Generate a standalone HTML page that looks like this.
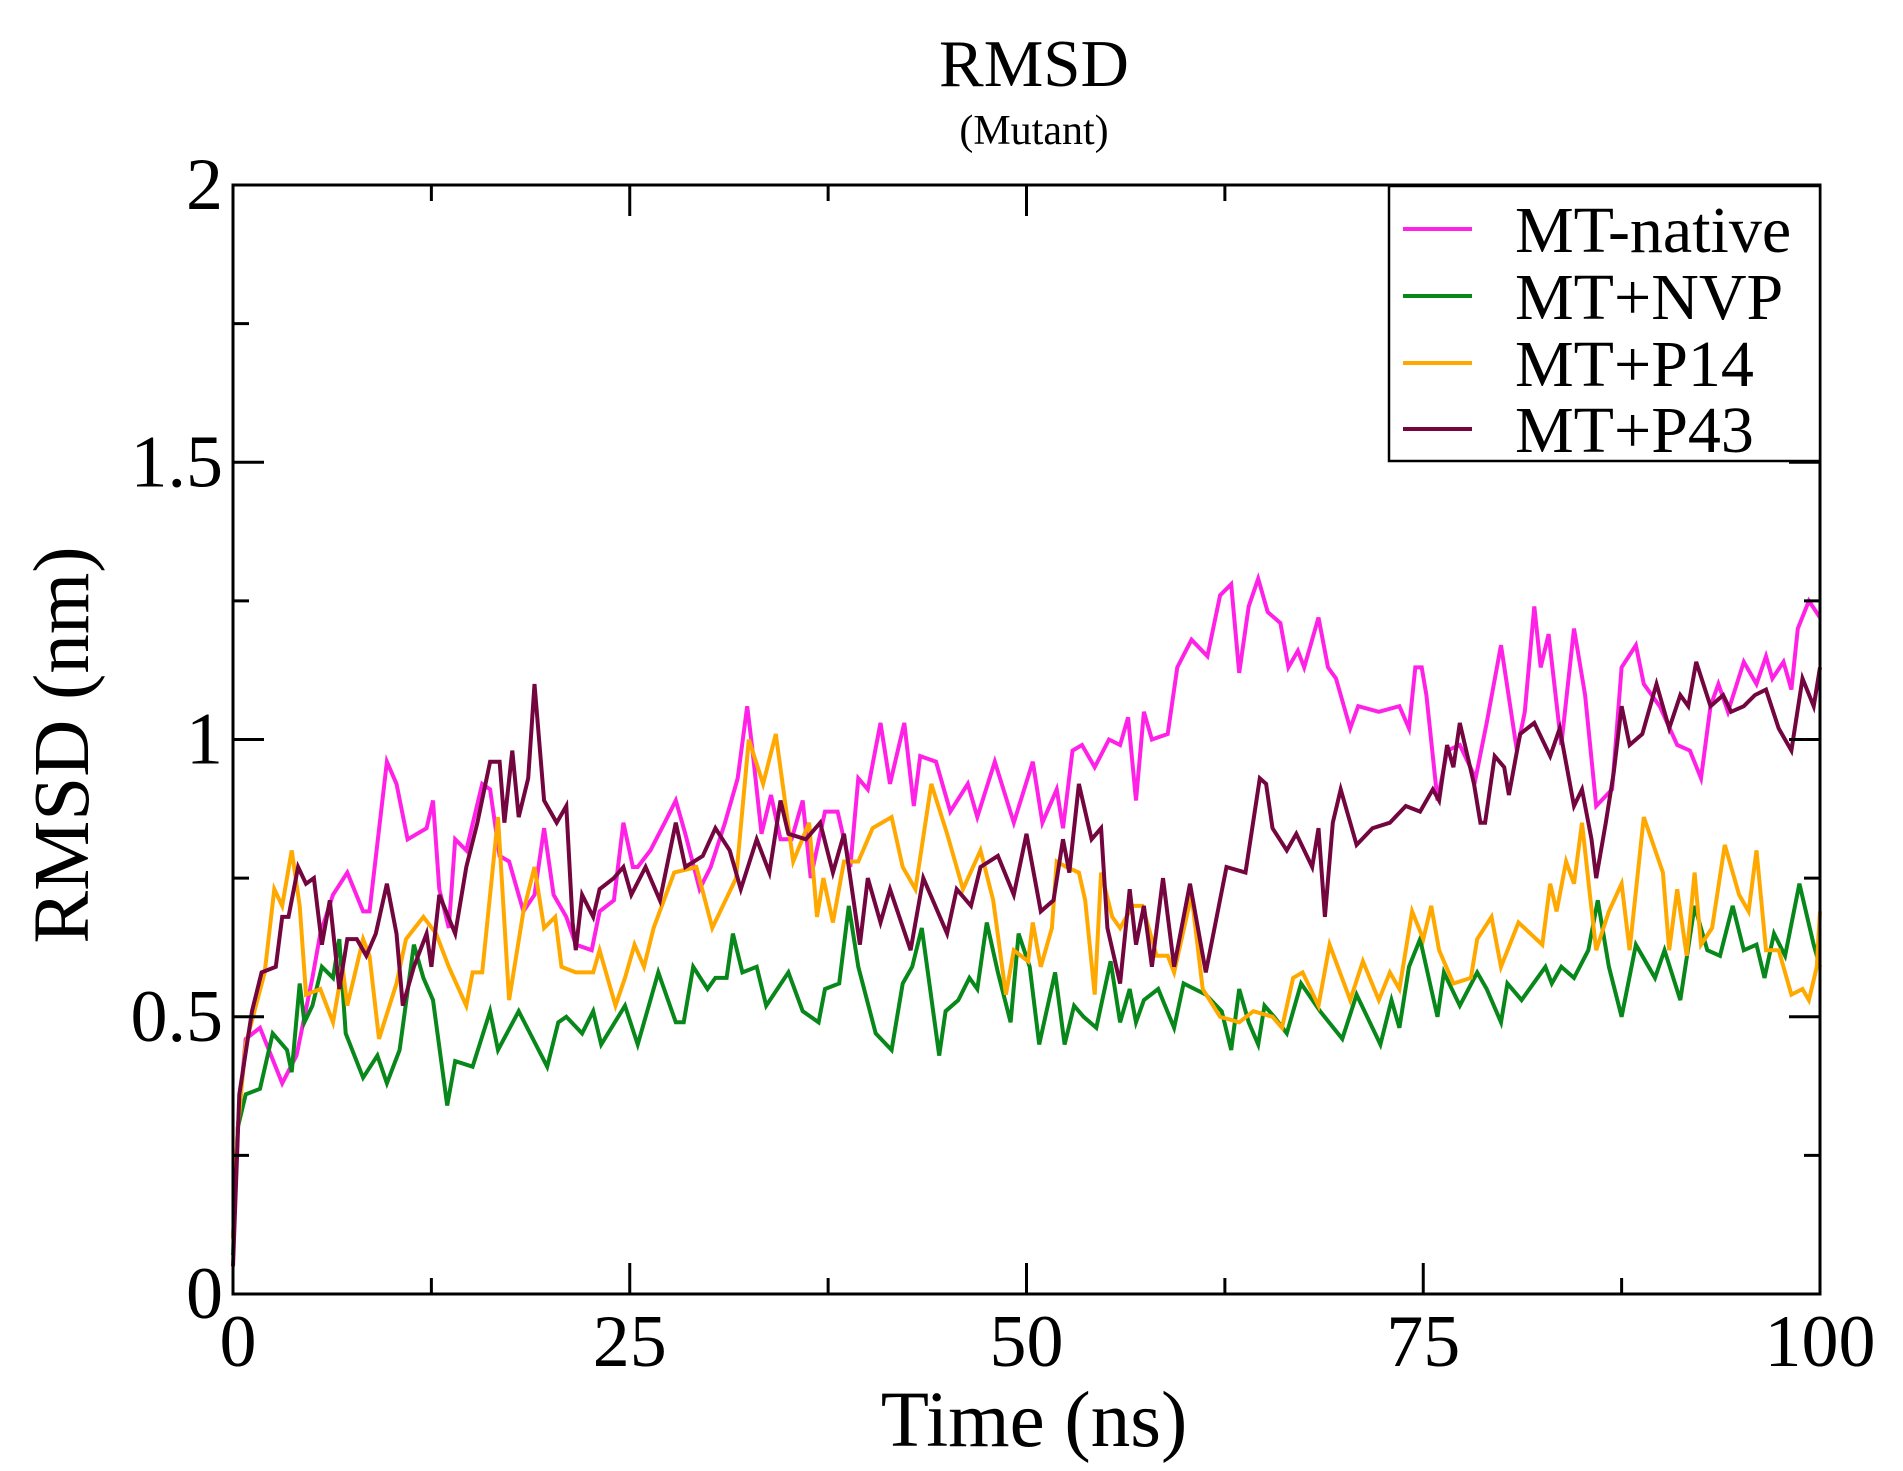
<!DOCTYPE html>
<html><head><meta charset="utf-8"><style>
html,body{margin:0;padding:0;background:#fff;}
svg{display:block;}
text{font-family:"Liberation Serif",serif;fill:#000;}
</style></head>
<body>
<svg id="chart" width="1903" height="1471" viewBox="0 0 1903 1471" xmlns="http://www.w3.org/2000/svg">
<rect width="1903" height="1471" fill="#fff"/>
<text x="1034" y="86" font-size="67" text-anchor="middle">RMSD</text>
<text x="1034" y="144" font-size="42" text-anchor="middle">(Mutant)</text>
<g id="series"></g>
<g id="axes"></g>
<text x="1034" y="1446" font-size="79" text-anchor="middle">Time (ns)</text>
<text transform="translate(88,745) rotate(-90)" x="0" y="0" font-size="79" text-anchor="middle">RMSD (nm)</text>
<g id="legend"></g>
</svg>
<script>
const xTicks = [0, 25, 50, 75, 100];
const xTickLabels = ["0", "25", "50", "75", "100"];
const yTicks = [0, 0.5, 1, 1.5, 2];
const yTickLabels = ["0", "0.5", "1", "1.5", "2"];
const seriesNames = ["MT-native", "MT+NVP", "MT+P14", "MT+P43"];
const seriesColors = ["#ff22e6", "#08871a", "#ffa800", "#74063f"];

const nativeT = [0,0.3,0.8,1.7,3.1,4,5,5.5,6.3,7.2,8.2,8.6,9.7,10.3,11,12.2,12.6,13,13.6,14,14.7,15.7,16.2,16.8,17.4,18.3,19,19.6,20.2,21,21.6,22.6,23.1,24,24.6,25.2,25.5,26.3,27.2,27.9,28.5,29.4,30.1,31,31.8,32.4,32.7,33.3,33.9,34.5,35.2,35.9,36.4,37.3,38.1,38.9,39.4,40,40.8,41.4,42.3,42.9,43.3,44.3,45.2,46.3,46.9,48,49.2,50.4,51,51.9,52.3,52.9,53.5,54.3,55.2,55.9,56.4,56.9,57.4,57.9,58.9,59.5,60.4,61.4,62.2,62.9,63.4,64,64.6,65.2,66,66.5,67.1,67.5,68.4,69,69.5,70.4,70.9,72.2,73.5,74.1,74.5,74.9,75.2,75.9,76.5,77.3,78.3,79,79.9,80.9,81.4,82,82.4,82.9,83.7,84.5,85.2,85.9,86.9,87.5,88.4,88.9,89.9,91,91.8,92.5,93.1,93.6,94.2,95.2,96,96.6,97,97.7,98.2,98.6,99.3,100];
const nativeV = [0.1,0.3,0.46,0.48,0.38,0.43,0.57,0.65,0.72,0.76,0.69,0.69,0.96,0.92,0.82,0.84,0.89,0.73,0.66,0.82,0.80,0.92,0.91,0.79,0.78,0.69,0.72,0.84,0.72,0.68,0.63,0.62,0.69,0.71,0.85,0.77,0.77,0.80,0.85,0.89,0.83,0.73,0.77,0.85,0.93,1.06,0.99,0.83,0.90,0.82,0.82,0.89,0.75,0.87,0.87,0.77,0.93,0.91,1.03,0.92,1.03,0.88,0.97,0.96,0.87,0.92,0.86,0.96,0.85,0.96,0.85,0.91,0.84,0.98,0.99,0.95,1.0,0.99,1.04,0.89,1.05,1.0,1.01,1.13,1.18,1.15,1.26,1.28,1.12,1.24,1.29,1.23,1.21,1.13,1.16,1.13,1.22,1.13,1.11,1.02,1.06,1.05,1.06,1.02,1.13,1.13,1.08,0.89,0.98,0.99,0.93,1.03,1.17,0.98,1.05,1.24,1.13,1.19,0.99,1.20,1.08,0.88,0.91,1.13,1.17,1.10,1.06,0.99,0.98,0.93,1.06,1.10,1.05,1.14,1.10,1.15,1.11,1.14,1.09,1.20,1.25,1.22];

const nvpT = [0,0.3,0.8,1.7,2.5,3.4,3.7,4.2,4.5,5,5.6,6.3,6.7,7.1,8.2,9.1,9.7,10.5,11.4,12,12.6,13.5,14,15.1,16.2,16.7,18,18.9,19.8,20.5,21,22,22.7,23.2,24.7,25.5,26.2,26.8,27.9,28.4,29,29.9,30.4,31.1,31.5,32.1,33,33.6,35,35.9,36.9,37.3,38.2,38.8,39.4,40.5,41.5,42.2,42.8,43.4,44.5,44.9,45.7,46.4,46.9,47.5,48.2,49,49.5,50.2,50.8,51.8,52.4,53,53.6,54.4,55.3,55.9,56.5,56.9,57.4,58.3,59.3,59.9,61.3,62.3,62.9,63.4,64,64.6,65,65.6,66.4,67.3,68.5,69.9,70.8,72.3,73,73.5,74.1,74.8,75.5,75.9,76.3,77.3,78.4,79,79.9,80.3,81.2,82.7,83.1,83.7,84.5,85.4,86,86.7,87.5,88.4,89.6,90.2,91.2,92.1,92.9,93.7,94.5,95.2,96,96.5,97.1,97.8,98.7,99.6,100];
const nvpV = [0.07,0.3,0.36,0.37,0.47,0.44,0.40,0.56,0.49,0.52,0.59,0.57,0.64,0.47,0.39,0.43,0.38,0.44,0.63,0.57,0.53,0.34,0.42,0.41,0.51,0.44,0.51,0.46,0.41,0.49,0.50,0.47,0.51,0.45,0.52,0.45,0.52,0.58,0.49,0.49,0.59,0.55,0.57,0.57,0.65,0.58,0.59,0.52,0.58,0.51,0.49,0.55,0.56,0.70,0.59,0.47,0.44,0.56,0.59,0.66,0.43,0.51,0.53,0.57,0.55,0.67,0.58,0.49,0.65,0.59,0.45,0.58,0.45,0.52,0.50,0.48,0.60,0.49,0.55,0.49,0.53,0.55,0.48,0.56,0.54,0.51,0.44,0.55,0.49,0.45,0.52,0.50,0.47,0.56,0.51,0.46,0.54,0.45,0.53,0.48,0.59,0.64,0.55,0.50,0.58,0.52,0.58,0.55,0.49,0.56,0.53,0.59,0.56,0.59,0.57,0.62,0.71,0.59,0.50,0.63,0.57,0.62,0.53,0.70,0.62,0.61,0.70,0.62,0.63,0.57,0.65,0.61,0.74,0.63,0.59];

const p14T = [0,0.3,0.8,2,2.6,3.1,3.7,4.2,4.6,5.5,6.3,6.9,7.2,8.2,8.6,9.2,10.3,10.9,12,12.8,13.6,14.7,15.1,15.7,16.7,17.4,18.3,19,19.6,20.3,20.7,21.6,22.7,23.1,24.1,24.7,25.3,25.9,26.5,27.8,29.2,30.2,31.7,32.5,33.4,34.2,35.3,36.3,36.8,37.2,37.8,38.5,39.4,40.3,41.5,42.2,43,44,45,46,47.1,47.9,48.7,49.2,50.1,50.4,50.9,51.6,51.9,52.5,53.3,53.7,54.3,54.7,55.4,55.9,56.7,57.3,58.2,58.9,59.3,60.4,61.1,62.2,63.4,64.3,65.5,66.1,66.8,67.4,68.4,69.1,70.4,71.2,72.2,72.9,73.5,74.3,75,75.5,76,76.9,78,78.4,79.3,79.9,81,82.5,83,83.4,84,84.5,85,85.5,85.9,86.7,87.5,88,88.9,90.1,90.5,91,91.6,92.1,92.5,93.2,94,94.9,95.5,96,96.6,97.4,98.2,98.9,99.3,99.8,100];
const p14V = [0.1,0.3,0.45,0.58,0.73,0.70,0.80,0.70,0.54,0.55,0.49,0.59,0.52,0.64,0.61,0.46,0.56,0.64,0.68,0.65,0.59,0.52,0.58,0.58,0.86,0.53,0.69,0.77,0.66,0.68,0.59,0.58,0.58,0.62,0.52,0.57,0.63,0.59,0.66,0.76,0.77,0.66,0.75,1.0,0.92,1.01,0.78,0.85,0.68,0.75,0.67,0.78,0.78,0.84,0.86,0.77,0.73,0.92,0.83,0.73,0.80,0.71,0.54,0.62,0.60,0.67,0.59,0.66,0.78,0.77,0.76,0.71,0.54,0.76,0.68,0.66,0.70,0.70,0.61,0.61,0.58,0.72,0.55,0.50,0.49,0.51,0.50,0.48,0.57,0.58,0.52,0.63,0.53,0.60,0.53,0.58,0.55,0.69,0.64,0.70,0.62,0.56,0.57,0.64,0.68,0.59,0.67,0.63,0.74,0.69,0.78,0.74,0.85,0.72,0.62,0.69,0.74,0.62,0.86,0.76,0.62,0.73,0.61,0.76,0.63,0.66,0.81,0.72,0.69,0.80,0.62,0.62,0.54,0.55,0.53,0.59,0.69];

const p43T = [0,0.4,1.2,1.8,2.7,3.1,3.5,4.1,4.6,5.1,5.6,6.1,6.7,7.2,7.8,8.4,9,9.7,10.3,10.7,11.4,12.2,12.5,13,14,14.7,15.4,16.2,16.8,17.1,17.6,18,18.6,19,19.6,20.4,21,21.4,21.6,22,22.7,23.1,24,24.6,25.1,26,26.9,27.9,28.5,29.6,30.4,31.3,32,33,33.8,34.5,35,36.1,37,37.8,38.5,39.5,40,40.8,41.4,42.7,43.5,45,45.6,46.5,47.1,48.2,49.2,50,50.9,51.7,52.3,52.7,53.3,54.1,54.7,55.1,55.9,56.5,56.9,57.4,57.9,58.6,59.3,60.3,61.3,62.6,63.8,64.7,65.1,65.5,66.4,67,68,68.4,68.8,69.3,69.8,70.8,71.8,72.9,73.9,74.8,75.6,76,76.5,76.9,77.3,78.2,78.6,78.9,79.5,80.1,80.4,81.1,82,83,83.6,84.5,85,85.6,85.9,86.5,87,87.5,88,88.8,89.7,90.5,91.2,91.7,92.2,93.1,93.9,94.4,95.2,95.9,96.6,97.4,98.2,98.9,99.6,100];
const p43V = [0.05,0.36,0.51,0.58,0.59,0.68,0.68,0.77,0.74,0.75,0.63,0.71,0.55,0.64,0.64,0.61,0.65,0.74,0.65,0.52,0.59,0.65,0.59,0.72,0.65,0.77,0.85,0.96,0.96,0.85,0.98,0.86,0.93,1.10,0.89,0.85,0.88,0.67,0.62,0.72,0.68,0.73,0.75,0.77,0.72,0.77,0.71,0.85,0.77,0.79,0.84,0.80,0.73,0.82,0.76,0.89,0.83,0.82,0.85,0.76,0.83,0.63,0.75,0.67,0.73,0.62,0.75,0.65,0.73,0.70,0.77,0.79,0.72,0.83,0.69,0.71,0.82,0.76,0.92,0.82,0.84,0.66,0.56,0.73,0.63,0.70,0.59,0.75,0.59,0.74,0.58,0.77,0.76,0.93,0.92,0.84,0.80,0.83,0.77,0.84,0.68,0.85,0.91,0.81,0.84,0.85,0.88,0.87,0.91,0.89,0.99,0.95,1.03,0.92,0.85,0.85,0.97,0.95,0.90,1.01,1.03,0.97,1.02,0.88,0.91,0.82,0.75,0.85,0.94,1.06,0.99,1.01,1.10,1.02,1.08,1.06,1.14,1.06,1.08,1.05,1.06,1.08,1.09,1.02,0.98,1.11,1.06,1.13];

const PL = 233, PR = 1820, PT = 185, PB = 1294;
const xMin = 0, xMax = 100, yMin = 0, yMax = 2;
function xScale(v){ return PL + (v - xMin) / (xMax - xMin) * (PR - PL); }
function yScale(v){ return PB - (v - yMin) / (yMax - yMin) * (PB - PT); }
const NS = "http://www.w3.org/2000/svg";
function mk(tag, attrs){ const e = document.createElementNS(NS, tag); for (const k in attrs) e.setAttribute(k, attrs[k]); return e; }

const seriesT = [nativeT, nvpT, p14T, p43T];
const seriesV = [nativeV, nvpV, p14V, p43V];
const sg = document.getElementById('series');
const seriesSlugs = ["mt-native", "mt-nvp", "mt-p14", "mt-p43"];
for (let s = 0; s < 4; s++) {
  const T = seriesT[s], V = seriesV[s];
  let d = "";
  for (let i = 0; i < T.length; i++) d += (i ? "L" : "M") + xScale(T[i]).toFixed(1) + "," + yScale(V[i]).toFixed(1);
  const p = mk('path', {d: d, fill: 'none', stroke: seriesColors[s], 'stroke-width': 4, 'stroke-linejoin': 'miter'});
  
  
  sg.appendChild(p);
}

const ag = document.getElementById('axes');
const frame = mk('rect', {x: PL, y: PT, width: PR - PL, height: PB - PT, fill: 'none', stroke: '#000', 'stroke-width': 3});


ag.appendChild(frame);
const MAJ = 31, MIN = 16;
for (let i = 0; i < xTicks.length; i++) {
  const x = xScale(xTicks[i]);
  const t1 = mk('line', {x1: x, x2: x, y1: PB, y2: PB - MAJ, stroke: '#000', 'stroke-width': 3});
  
  
  ag.appendChild(t1);
  const t2 = mk('line', {x1: x, x2: x, y1: PT, y2: PT + MAJ, stroke: '#000', 'stroke-width': 3});
  
  
  ag.appendChild(t2);
  if (i < xTicks.length - 1) {
    const xm = xScale((xTicks[i] + xTicks[i + 1]) / 2);
    const m1 = mk('line', {x1: xm, x2: xm, y1: PB, y2: PB - MIN, stroke: '#000', 'stroke-width': 3});
    
    
    ag.appendChild(m1);
    const m2 = mk('line', {x1: xm, x2: xm, y1: PT, y2: PT + MIN, stroke: '#000', 'stroke-width': 3});
    
    
    ag.appendChild(m2);
  }
  const lb = mk('text', {x: x + (i === 0 ? 5 : 0), y: 1366, 'font-size': 74, 'text-anchor': 'middle'});
  lb.textContent = xTickLabels[i];
  
  
  ag.appendChild(lb);
}
for (let i = 0; i < yTicks.length; i++) {
  const y = yScale(yTicks[i]);
  const t1 = mk('line', {x1: PL, x2: PL + MAJ, y1: y, y2: y, stroke: '#000', 'stroke-width': 3});
  
  
  ag.appendChild(t1);
  const t2 = mk('line', {x1: PR, x2: PR - MAJ, y1: y, y2: y, stroke: '#000', 'stroke-width': 3});
  
  
  ag.appendChild(t2);
  if (i < yTicks.length - 1) {
    const ym = yScale((yTicks[i] + yTicks[i + 1]) / 2);
    const m1 = mk('line', {x1: PL, x2: PL + MIN, y1: ym, y2: ym, stroke: '#000', 'stroke-width': 3});
    
    
    ag.appendChild(m1);
    const m2 = mk('line', {x1: PR, x2: PR - MIN, y1: ym, y2: ym, stroke: '#000', 'stroke-width': 3});
    
    
    ag.appendChild(m2);
  }
  const lb = mk('text', {x: 223, y: y + 24, 'font-size': 74, 'text-anchor': 'end'});
  lb.textContent = yTickLabels[i];
  
  
  ag.appendChild(lb);
}

const lg = document.getElementById('legend');
const box = mk('rect', {x: 1389, y: 186, width: 431, height: 275, fill: '#fff', stroke: '#000', 'stroke-width': 2.5});


lg.appendChild(box);
const legendY = [229, 296, 363, 429];
for (let s = 0; s < 4; s++) {
  const ln = mk('line', {x1: 1403, x2: 1472, y1: legendY[s], y2: legendY[s], stroke: seriesColors[s], 'stroke-width': 4});
  
  
  lg.appendChild(ln);
  const tx = mk('text', {x: 1515, y: legendY[s] + 23, 'font-size': 66});
  tx.textContent = seriesNames[s];
  
  
  lg.appendChild(tx);
}
</script>
</body></html>
